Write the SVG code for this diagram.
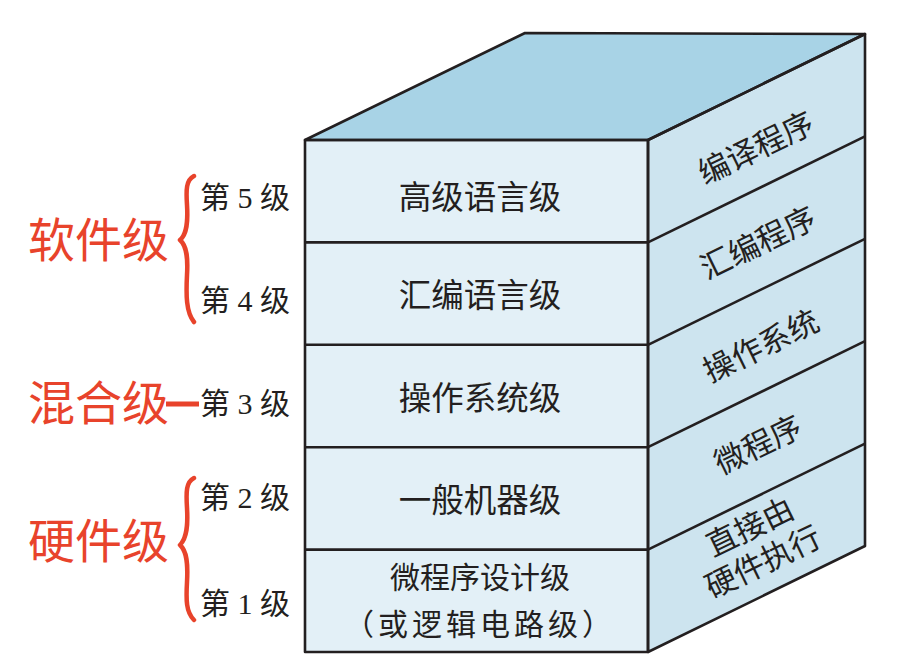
<svg xmlns="http://www.w3.org/2000/svg" width="916" height="672" viewBox="0 0 916 672">
<style>
.edge{stroke:#231f20;stroke-width:2.6;stroke-linejoin:round;fill:none}
.front{fill:#e3f0f7}
.side{fill:#cde4ef}
.top{fill:#a8d3e6}
.t{font-family:"Noto Sans CJK SC","Noto Sans CJK JP",sans-serif;font-size:32.5px;fill:#231f20;text-anchor:middle}
.t1{font-family:"Noto Sans CJK SC","Noto Sans CJK JP",sans-serif;font-size:30px;fill:#231f20;text-anchor:middle}
.s{font-family:"Noto Sans CJK SC","Noto Sans CJK JP",sans-serif;font-size:31px;fill:#231f20;text-anchor:middle}
.lv{font-family:"Liberation Serif","Noto Sans CJK SC",serif;font-size:30px;fill:#231f20}
.red{font-family:"Noto Sans CJK SC","Noto Sans CJK JP",sans-serif;font-size:47px;fill:#e8432b}
.brace{stroke:#e8432b;stroke-width:4.5;fill:none;stroke-linecap:round;stroke-linejoin:round}
</style>
<g id="cube">
<polygon class="top" points="305,140 525,33 865,34 648,140"/>
<polygon class="side" points="648,140 865,34 865,546 648,652"/>
<polygon class="front" points="305,140 648,140 648,652 305,652"/>
</g>
<g id="connectors">
<polygon class="edge" points="305,140 525,33 865,34 648,140"/>
<polygon class="edge" points="648,140 865,34 865,546 648,652"/>
<rect class="edge" x="305" y="140" width="343" height="512"/>
<line class="edge" x1="305" y1="242.4" x2="648" y2="242.4"/>
<line class="edge" x1="305" y1="344.8" x2="648" y2="344.8"/>
<line class="edge" x1="305" y1="447.2" x2="648" y2="447.2"/>
<line class="edge" x1="305" y1="549.6" x2="648" y2="549.6"/>
<line class="edge" x1="648" y1="242.4" x2="865" y2="136.4"/>
<line class="edge" x1="648" y1="344.8" x2="865" y2="238.8"/>
<line class="edge" x1="648" y1="447.2" x2="865" y2="341.2"/>
<line class="edge" x1="648" y1="549.6" x2="865" y2="443.6"/>
<path class="brace" d="M194,176 C186,180 186,190 187,205 C188,222 187,234 180,240 C187,246 188,258 187,275 C186,295 186,312 194,322"/>
<path class="brace" d="M194,478 C186,482 186,492 187,508 C188,525 187,538 180,545 C187,551 188,564 187,582 C186,600 186,612 194,620"/>
<line x1="166" y1="404" x2="199" y2="404" stroke="#e8432b" stroke-width="5"/>
</g>
<g id="level5"><text class="t" x="480" y="209">高级语言级</text></g>
<g id="level4"><text class="t" x="480" y="307">汇编语言级</text></g>
<g id="level3"><text class="t" x="480" y="410">操作系统级</text></g>
<g id="level2"><text class="t" x="480" y="512">一般机器级</text></g>
<g id="level1"><text class="t1" x="480" y="588">微程序设计级</text><text class="t1" x="480" y="635" letter-spacing="4">（或逻辑电路级）</text></g>
<g id="side-labels">
<text class="s" transform="translate(756,148) rotate(-26)" y="11">编译程序</text>
<text class="s" transform="translate(758,243) rotate(-26)" y="11">汇编程序</text>
<text class="s" transform="translate(761,346) rotate(-26)" y="11">操作系统</text>
<text class="s" transform="translate(758,445) rotate(-26)" y="11">微程序</text>
<text class="s" transform="translate(750,527) rotate(-26)" y="11">直接由</text>
<text class="s" transform="translate(763,562) rotate(-26)" y="11">硬件执行</text>
</g>
<g id="left-labels">
<text class="lv" x="200" y="208">第 5 级</text>
<text class="lv" x="200" y="311">第 4 级</text>
<text class="lv" x="200" y="414">第 3 级</text>
<text class="lv" x="200" y="508">第 2 级</text>
<text class="lv" x="200" y="614">第 1 级</text>
</g>
<g id="groups">
<text class="red" x="28" y="257">软件级</text>
<text class="red" x="28" y="420">混合级</text>
<text class="red" x="28" y="558">硬件级</text>
</g>
</svg>
